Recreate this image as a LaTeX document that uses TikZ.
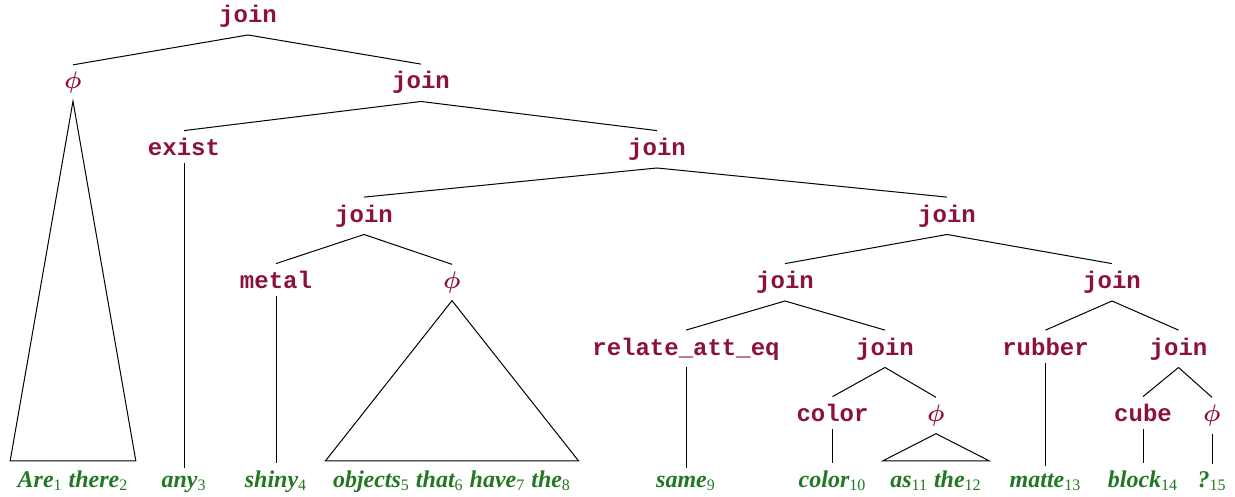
\documentclass[tikz,border=0pt]{standalone}
\usepackage{fontspec}
\usepackage{bm}
\setmainfont{Liberation Serif}
\setmonofont{Liberation Mono}
\usetikzlibrary{positioning}
\definecolor{fnred}{RGB}{140,18,60}
\definecolor{wordgreen}{RGB}{34,120,34}
\newcommand{\idx}[1]{\textsubscript{\normalfont #1}}
\newcommand{\empt}{$\bm{\phi}$}

\begin{document}
\begin{tikzpicture}[x=0.5pt, y=-0.5pt, line width=0.5pt,
    every node/.style={inner sep=3.5pt, anchor=base},
    fn/.style={font=\fontsize{12}{14}\selectfont\ttfamily\bfseries, text=fnred},
    word/.style={font=\fontsize{12}{14}\selectfont\bfseries\itshape, text=wordgreen}]
    \useasboundingbox (0,0) rectangle (1235,497);
    % program nodes, one row per level
    \node[fn] (root) at (248,22.5) {join};
    \node[fn] (e1) at (73,89) {\empt};
    \node[fn] (j2) at (421,89) {join};
    \node[fn] (exist) at (184,155.5) {exist};
    \node[fn] (j3) at (657,155.5) {join};
    \node[fn] (j4a) at (364,222) {join};
    \node[fn] (j4b) at (947,222) {join};
    \node[fn] (metal) at (276,288.5) {metal};
    \node[fn] (e2) at (452,288.5) {\empt};
    \node[fn] (j5a) at (785,288.5) {join};
    \node[fn] (j5b) at (1112,288.5) {join};
    \node[fn] (relate) at (686,355) {relate\_att\_eq};
    \node[fn] (j6a) at (885,355) {join};
    \node[fn] (rubber) at (1045.5,355) {rubber};
    \node[fn] (j6b) at (1178.5,355) {join};
    \node[fn] (colorfn) at (832.5,421.5) {color};
    \node[fn] (e3) at (936,421.5) {\empt};
    \node[fn] (cube) at (1143,421.5) {cube};
    \node[fn] (e4) at (1212,421.5) {\empt};
    % question words
    \node[word] (w1) at (73,487) {Are\idx{1} there\idx{2}};
    \node[word] (w3) at (184,487) {any\idx{3}};
    \node[word] (w4) at (276,487) {shiny\idx{4}};
    \node[word] (w5) at (452,487) {objects\idx{5} that\idx{6} have\idx{7} the\idx{8}};
    \node[word] (w9) at (686,487) {same\idx{9}};
    \node[word] (w10) at (832.5,487) {color\idx{10}};
    \node[word] (w11) at (936,487) {as\idx{11} the\idx{12}};
    \node[word] (w13) at (1045.5,487) {matte\idx{13}};
    \node[word] (w14) at (1143,487) {block\idx{14}};
    \node[word] (w15) at (1212,487) {?\idx{15}};
    \foreach \p/\c in {root/e1, root/j2, j2/exist, j2/j3, j3/j4a, j3/j4b,
        j4a/metal, j4a/e2, j4b/j5a, j4b/j5b, j5a/relate, j5a/j6a,
        j5b/rubber, j5b/j6b, j6a/colorfn, j6a/e3, j6b/cube, j6b/e4,
        exist/w3, metal/w4, relate/w9, colorfn/w10, rubber/w13, cube/w14, e4/w15}
        \draw (\p.south) -- (\c.north);
    \foreach \p/\c in {e1/w1, e2/w5, e3/w11}
        \draw (\p.south) -- ([yshift=1pt]\c.north west) -- ([yshift=1pt]\c.north east) -- cycle;
\end{tikzpicture}
\end{document}
